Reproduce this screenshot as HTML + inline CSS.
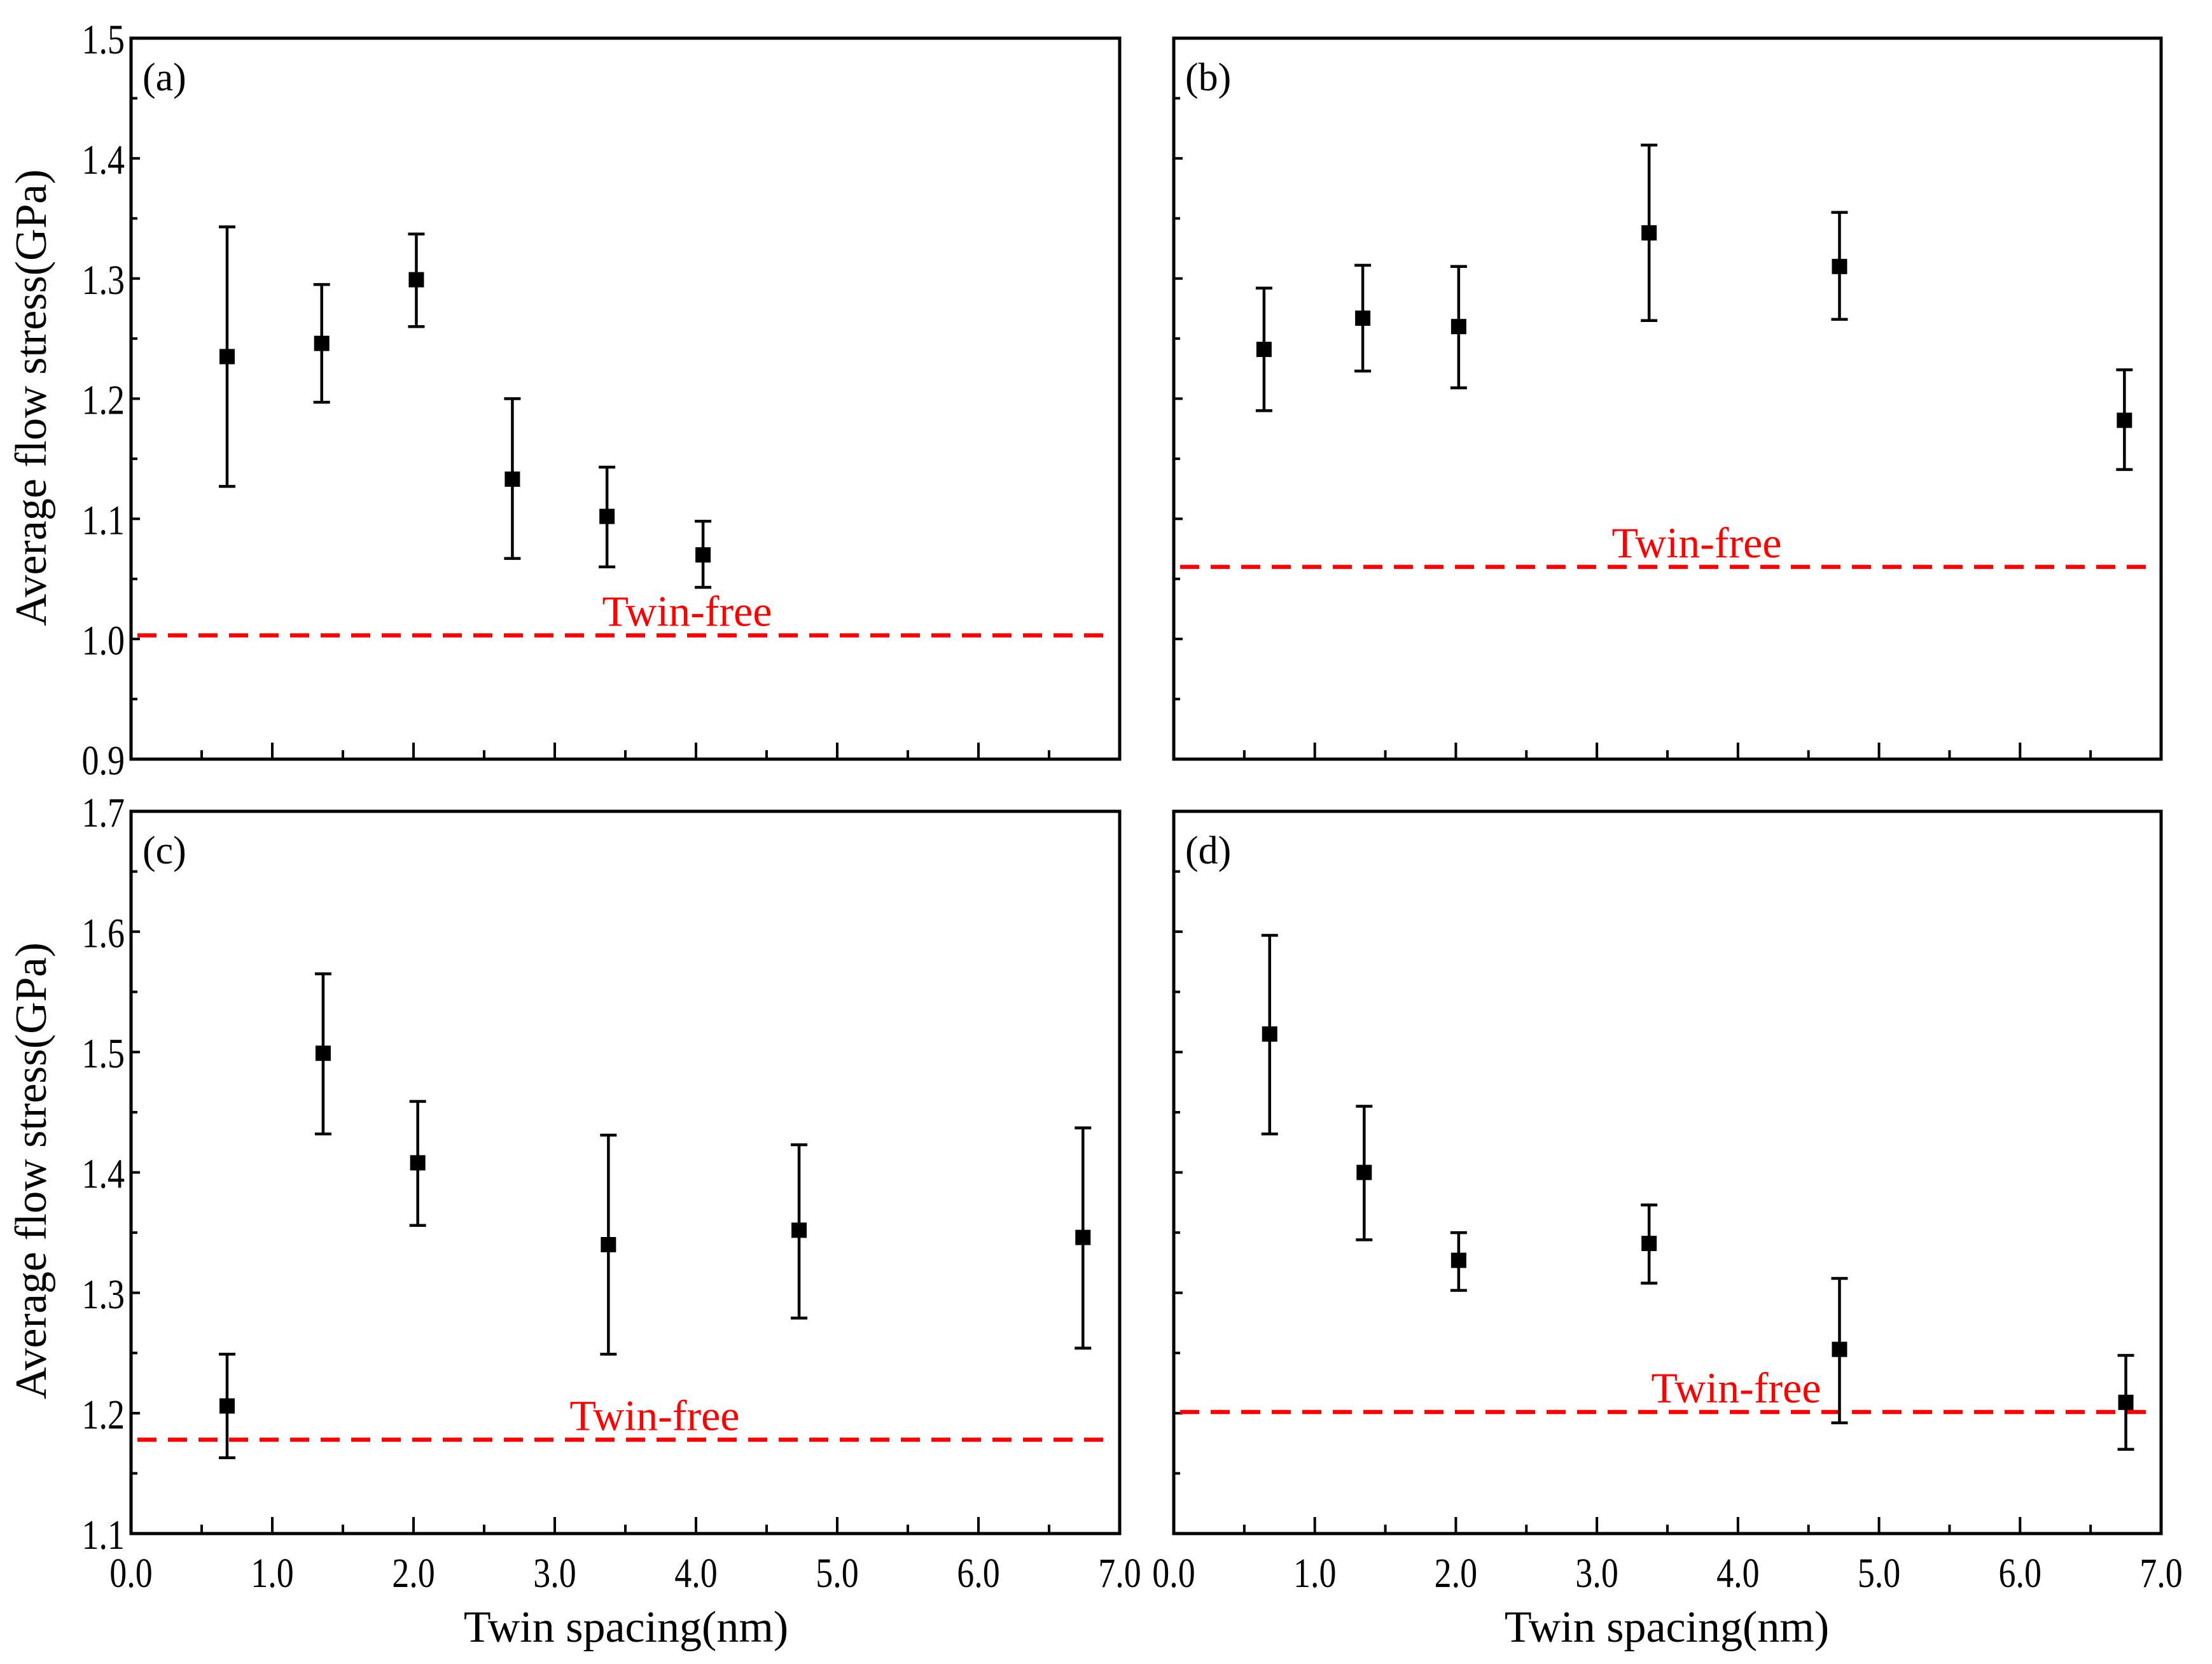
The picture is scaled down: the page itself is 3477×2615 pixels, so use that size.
<!DOCTYPE html>
<html><head><meta charset="utf-8"><style>
html,body{margin:0;padding:0;background:#fff}
svg{display:block;font-family:"Liberation Serif",serif}
</style></head><body>
<svg id="chart" width="3477" height="2615" viewBox="0 0 3477 2615" xmlns="http://www.w3.org/2000/svg"></svg>
<script>
const xTicks=[0,1,2,3,4,5,6,7];
const xTickLabels=["0.0","1.0","2.0","3.0","4.0","5.0","6.0","7.0"];
const yTicksTop=[0.9,1.0,1.1,1.2,1.3,1.4,1.5];
const yTicksBottom=[1.1,1.2,1.3,1.4,1.5,1.6,1.7];
const aX=[0.68,1.35,2.02,2.7,3.37,4.05];
const aY=[1.235,1.246,1.299,1.133,1.102,1.07];
const aLo=[1.127,1.197,1.26,1.067,1.06,1.043];
const aHi=[1.343,1.295,1.337,1.2,1.143,1.098];
const aTF=1.003;
const bX=[0.64,1.34,2.02,3.37,4.72,6.74];
const bY=[1.241,1.267,1.26,1.338,1.31,1.182];
const bLo=[1.19,1.223,1.209,1.265,1.266,1.141];
const bHi=[1.292,1.311,1.31,1.411,1.355,1.224];
const bTF=1.06;
const cX=[0.68,1.36,2.03,3.38,4.73,6.74];
const cY=[1.206,1.499,1.408,1.34,1.352,1.346];
const cLo=[1.163,1.432,1.356,1.249,1.279,1.254];
const cHi=[1.249,1.565,1.459,1.431,1.423,1.437];
const cTF=1.178;
const dX=[0.68,1.35,2.02,3.37,4.72,6.75];
const dY=[1.515,1.4,1.327,1.341,1.253,1.209];
const dLo=[1.432,1.344,1.302,1.308,1.192,1.17];
const dHi=[1.597,1.455,1.35,1.373,1.312,1.248];
const dTF=1.201;

const svg=document.getElementById('chart');
const NS='http://www.w3.org/2000/svg';
function mk(tag,attrs,parent,text){const e=document.createElementNS(NS,tag);for(const k in attrs)e.setAttribute(k,attrs[k]);if(text!==undefined)e.textContent=text;(parent||svg).appendChild(e);return e;}

function panel(id,L,R,T,B,ymin,ymax,yTicks,showY,showX,X,Y,Lo,Hi,TF,tfX,tfY){
  const g=mk('g',{});
  
  
  const sx=v=>L+(v-0)/(7-0)*(R-L);
  const sy=v=>B-(v-ymin)/(ymax-ymin)*(B-T);
  for(let v=0;v<=7.001;v+=0.5){
    const major=Math.abs(v-Math.round(v))<1e-6;
    const t=mk('line',{x1:sx(v),x2:sx(v),y1:B,y2:B-(major?26:14),stroke:'#000','stroke-width':4},g);
    
    
  }
  for(let v=ymin;v<=ymax+1e-6;v+=0.05){
    const major=Math.abs(v*10-Math.round(v*10))<1e-6;
    const t=mk('line',{x1:L,x2:L+(major?14:10),y1:sy(v),y2:sy(v),stroke:'#000','stroke-width':4},g);
    
    
  }
  if(showY){
    yTicks.forEach(v=>{
      const t=mk('text',{x:L-10,y:sy(v)+22,'text-anchor':'end','font-size':60,transform:`translate(${L-10},${sy(v)}) scale(0.9,1.1) translate(${-(L-10)},${-sy(v)})`},g,v.toFixed(1));
      
      
    });
  }
  if(showX){
    xTicks.forEach((v,i)=>{
      const t=mk('text',{x:sx(v),y:B+84,'text-anchor':'middle','font-size':60,transform:`translate(${sx(v)},${B+84}) scale(0.9,1.1) translate(${-sx(v)},${-(B+84)})`},g,xTickLabels[i]);
      
      
    });
  }
  const tl=mk('line',{x1:L+10,x2:R-20,y1:sy(TF),y2:sy(TF),stroke:'#ff0000','stroke-width':6.5,'stroke-dasharray':'30 18'},g);
  
  
  const tt=mk('text',{x:tfX,y:sy(TF)+tfY,'text-anchor':'middle','font-size':68,fill:'#ff0000'},g,'Twin-free');
  
  
  X.forEach((x,i)=>{
    const px=sx(x);
    const eb=mk('path',{d:`M${px},${sy(Lo[i])}V${sy(Hi[i])}M${px-13},${sy(Lo[i])}H${px+13}M${px-13},${sy(Hi[i])}H${px+13}`,stroke:'#000','stroke-width':4.5,fill:'none'},g);
    
    
    const p=mk('rect',{x:px-12,y:sy(Y[i])-12,width:24,height:24,fill:'#000'},g);
    
    
  });
  const fr=mk('rect',{x:L,y:T,width:R-L,height:B-T,fill:'none',stroke:'#000','stroke-width':5},g);
  
  
  const pl=mk('text',{x:L+18,y:T+82,'font-size':62},g,'('+id+')');
  
  
}
panel('a',206,1760,60,1193,0.9,1.5,yTicksTop,true,false,aX,aY,aLo,aHi,aTF,1080,-15);
panel('b',1845,3397,60,1193,0.9,1.5,yTicksTop,false,false,bX,bY,bLo,bHi,bTF,2667,-15);
panel('c',206,1760,1275,2410,1.1,1.7,yTicksBottom,true,true,cX,cY,cLo,cHi,cTF,1029,-15);
panel('d',1845,3397,1275,2410,1.1,1.7,yTicksBottom,false,true,dX,dY,dLo,dHi,dTF,2729,-15);

[625,1840].forEach(cy=>{
  const t=mk('text',{x:0,y:0,'text-anchor':'middle','font-size':70,transform:`translate(72,${cy}) rotate(-90)`},svg,'Average flow stress(GPa)');
  
  
});
[984,2620].forEach(cx=>{
  const t=mk('text',{x:cx,y:2580,'text-anchor':'middle','font-size':70},svg,'Twin spacing(nm)');
  
  
});
</script>
</body></html>
